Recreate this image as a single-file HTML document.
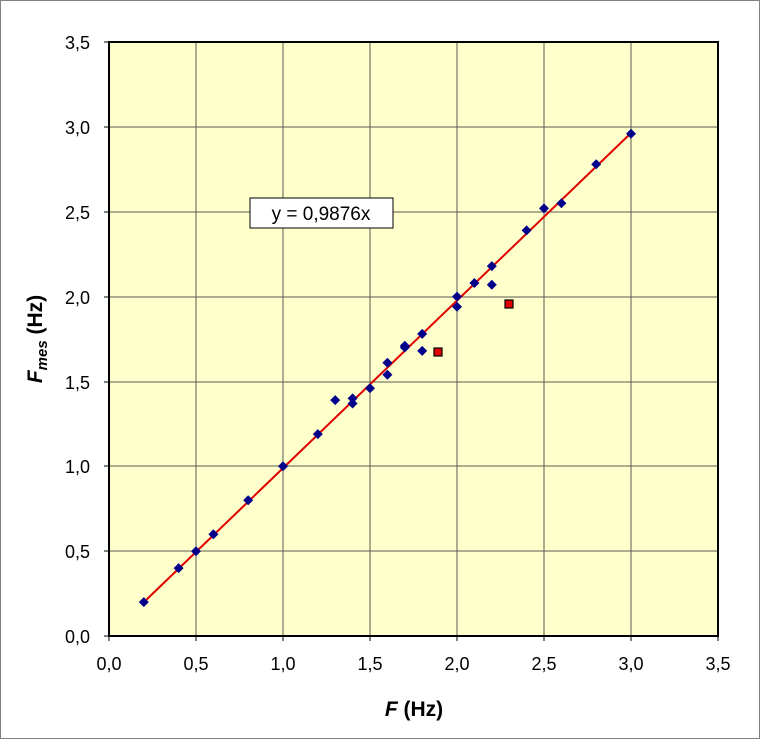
<!DOCTYPE html>
<html><head><meta charset="utf-8"><style>
body{margin:0;background:#fff}
svg{display:block;font-family:"Liberation Sans",Arial,sans-serif}
</style></head><body>
<svg width="760" height="739" viewBox="0 0 760 739">
<defs><polygon id="dm" points="0,-5 5,0 0,5 -5,0" fill="#00008B"/></defs>
<rect x="0.5" y="0.5" width="759" height="738" fill="#fff" stroke="#808080" stroke-width="1"/>
<rect x="109" y="42" width="609" height="594" fill="#FFFFCC"/>
<g stroke="#5a5a50" stroke-width="1">
<line x1="196" y1="42" x2="196" y2="636"/><line x1="283" y1="42" x2="283" y2="636"/>
<line x1="370" y1="42" x2="370" y2="636"/><line x1="457" y1="42" x2="457" y2="636"/>
<line x1="544" y1="42" x2="544" y2="636"/><line x1="631" y1="42" x2="631" y2="636"/>
<line x1="109" y1="127" x2="718" y2="127"/><line x1="109" y1="212" x2="718" y2="212"/>
<line x1="109" y1="297" x2="718" y2="297"/><line x1="109" y1="382" x2="718" y2="382"/>
<line x1="109" y1="466" x2="718" y2="466"/><line x1="109" y1="551" x2="718" y2="551"/>
</g>
<rect x="109" y="42" width="609" height="594" fill="none" stroke="#000" stroke-width="2"/>
<g stroke="#000" stroke-width="1">
<line x1="104" y1="42" x2="109" y2="42"/><line x1="104" y1="127" x2="109" y2="127"/><line x1="104" y1="212" x2="109" y2="212"/><line x1="104" y1="297" x2="109" y2="297"/><line x1="104" y1="382" x2="109" y2="382"/><line x1="104" y1="466" x2="109" y2="466"/><line x1="104" y1="551" x2="109" y2="551"/><line x1="104" y1="636" x2="109" y2="636"/>
<line x1="109" y1="636" x2="109" y2="641"/><line x1="196" y1="636" x2="196" y2="641"/><line x1="283" y1="636" x2="283" y2="641"/><line x1="370" y1="636" x2="370" y2="641"/><line x1="457" y1="636" x2="457" y2="641"/><line x1="544" y1="636" x2="544" y2="641"/><line x1="631" y1="636" x2="631" y2="641"/><line x1="718" y1="636" x2="718" y2="641"/>
</g>
<g font-size="18" text-anchor="end" fill="#000">
<text x="90" y="49">3,5</text><text x="90" y="134">3,0</text><text x="90" y="219">2,5</text><text x="90" y="304">2,0</text><text x="90" y="389">1,5</text><text x="90" y="473">1,0</text><text x="90" y="558">0,5</text><text x="90" y="643">0,0</text>
</g>
<g font-size="18" text-anchor="middle" fill="#000">
<text x="109" y="670">0,0</text><text x="196" y="670">0,5</text><text x="283" y="670">1,0</text><text x="370" y="670">1,5</text><text x="457" y="670">2,0</text><text x="544" y="670">2,5</text><text x="631" y="670">3,0</text><text x="718" y="670">3,5</text>
</g>
<text x="414" y="716" font-size="21" font-weight="bold" text-anchor="middle"><tspan font-style="italic">F</tspan>  (Hz)</text>
<text transform="translate(42,339) rotate(-90)" font-size="21" font-weight="bold" text-anchor="middle"><tspan font-style="italic">F</tspan><tspan font-style="italic" font-size="15" dy="5">mes</tspan><tspan dy="-5">  (Hz)</tspan></text>
<line x1="144" y1="602" x2="631" y2="133" stroke="#e00000" stroke-width="2"/>
<use href="#dm" x="143.8" y="602.1"/><use href="#dm" x="178.6" y="568.1"/><use href="#dm" x="196" y="551.2"/><use href="#dm" x="213.4" y="534.2"/><use href="#dm" x="248.2" y="500.2"/><use href="#dm" x="283" y="466.3"/><use href="#dm" x="317.8" y="434.1"/><use href="#dm" x="335.2" y="400.1"/><use href="#dm" x="352.6" y="398.4"/><use href="#dm" x="352.6" y="403.5"/><use href="#dm" x="370" y="388.2"/><use href="#dm" x="387.4" y="362.8"/><use href="#dm" x="387.4" y="374.7"/><use href="#dm" x="404.8" y="347.5"/><use href="#dm" x="404.8" y="345.8"/><use href="#dm" x="422.2" y="333.9"/><use href="#dm" x="422.2" y="350.9"/><use href="#dm" x="457" y="296.6"/><use href="#dm" x="457" y="306.8"/><use href="#dm" x="474.4" y="283"/><use href="#dm" x="491.8" y="266.1"/><use href="#dm" x="491.8" y="284.7"/><use href="#dm" x="526.6" y="230.4"/><use href="#dm" x="544" y="208.4"/><use href="#dm" x="561.4" y="203.3"/><use href="#dm" x="596.2" y="164.2"/><use href="#dm" x="631" y="133.7"/>
<g fill="#e00000" stroke="#000" stroke-width="1.2">
<rect x="434" y="348" width="8" height="8"/><rect x="505" y="300" width="8" height="8"/>
</g>
<rect x="250" y="198" width="143" height="30" fill="#fff" stroke="#000" stroke-width="1"/>
<text x="321" y="220" font-size="19" text-anchor="middle">y = 0,9876x</text>
</svg>
</body></html>
